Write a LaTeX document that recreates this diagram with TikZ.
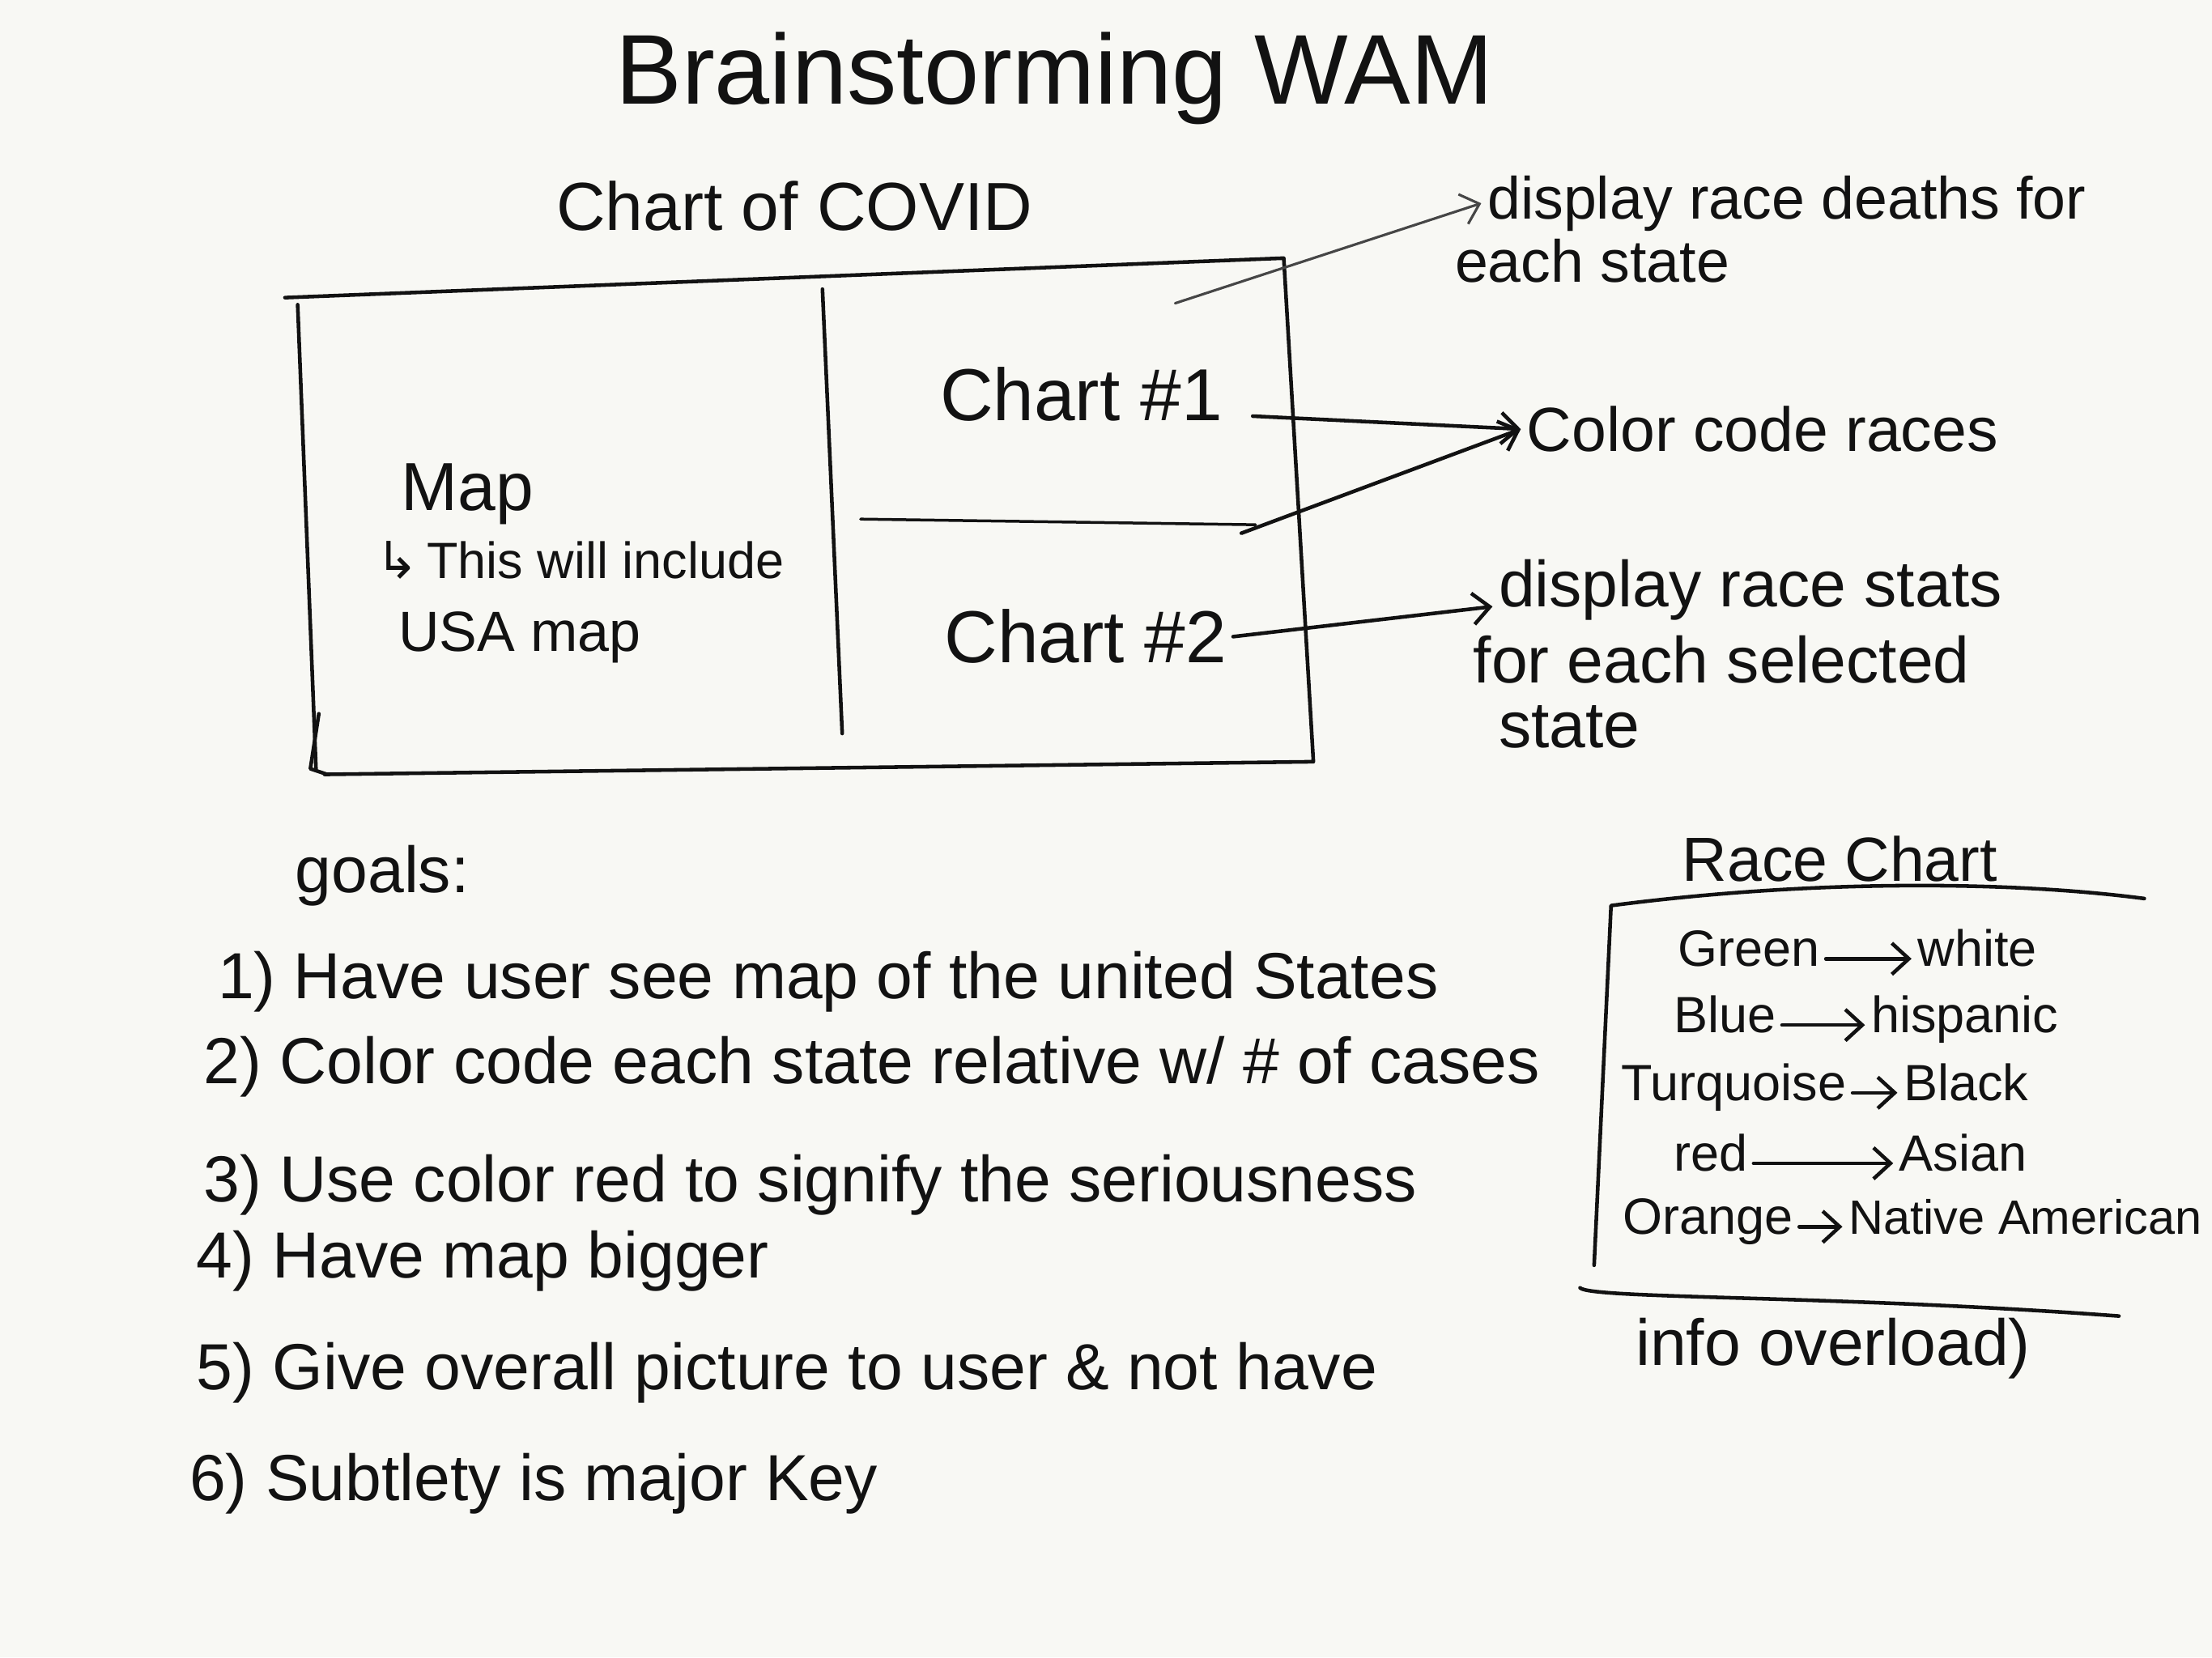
\documentclass[tikz,border=0pt]{standalone}
\usepackage{fontspec}
\setmainfont{Liberation Sans}
\newfontfamily\arrowfont{DejaVu Sans}
\usepackage{tikz}
\usetikzlibrary{arrows.meta}
\definecolor{paper}{RGB}{248,248,244}
\definecolor{ink}{RGB}{18,18,18}
\definecolor{inkgrey}{RGB}{70,70,70}

\begin{document}
\begin{tikzpicture}[x=0.0175cm, y=-0.0175cm,
        >={Straight Barb[length=6pt,width=11pt]},
        pen/.style={draw=ink, line width=1.3pt, line cap=round, line join=round},
        hand/.style={text=ink, anchor=base west, inner sep=2pt,
                     font=\fontsize{#1}{#1}\selectfont},
        hand/.default=23]
    \useasboundingbox (0,0) rectangle (1568,1175);
    \fill[paper] (0,0) rectangle (1568,1175);

    \node[hand=35] (title) at (432,74) {Brainstorming WAM};
    \node[hand=24] (covid) at (390,163) {Chart of COVID};

    % dashboard frame
    \draw[pen] (202,211) -- (910,183) -- (931,540) -- (230,549);
    \draw[pen] (211,216) -- (224,545);
    \draw[pen] (226,506) -- (220,545) -- (232,549);
    \draw[pen] (583,205) -- (597,520);
    \draw[pen, line width=1pt] (610,368) -- (890,372);

    \node[hand=24] (map) at (280,362) {Map};
    \node[hand=18] (mapnote) at (262,410) {{\arrowfont ↳}\,This will include};
    \node[hand=20] (usamap) at (278,462) {USA map};
    \node[hand=26] (chartone) at (662,298) {Chart \#1};
    \node[hand=26] (charttwo) at (665,470) {Chart \#2};

    % notes on the right
    \node[hand=21] (deathsa) at (1050,155) {display race deaths for};
    \node[hand=21] (deathsb) at (1027,200) {each state};
    \node[hand=22] (races) at (1078,320) {Color code races};
    \node[hand=23] (statsa) at (1058,430) {display race stats};
    \node[hand=23] (statsb) at (1040,484) {for each selected};
    \node[hand=23] (statsc) at (1058,530) {state};

    \coordinate (deathsfrom) at (833,215);
    \coordinate (racesfrom) at (888,295);
    \coordinate (racesfromb) at (880,378);
    \draw[pen, draw=inkgrey, line width=0.9pt, ->] (deathsfrom) -- (deathsa.west);
    \draw[pen, ->] (racesfrom) -- (races.west);
    \draw[pen, ->] (racesfromb) -- (races.west);
    \draw[pen, ->] (charttwo.east) -- (statsa.base west);

    % goals
    \node[hand] (goals) at (205,633) {goals:};
    \node[hand] (goalone) at (150,708) {1) Have user see map of the united States};
    \node[hand] (goaltwo) at (140,768) {2) Color code each state relative w/ \# of cases};
    \node[hand] (goalthree) at (140,852) {3) Use color red to signify the seriousness};
    \node[hand] (goalfour) at (135,906) {4) Have map bigger};
    \node[hand] (goalfive) at (135,985) {5) Give overall picture to user \& not have};
    \node[hand] (goalfiveb) at (1155,968) {info overload)};
    \node[hand] (goalsix) at (130,1064) {6) Subtlety is major Key};

    % race chart
    \node[hand=22] (racechart) at (1188,625) {Race Chart};
    \draw[pen] (1520,637) .. controls (1420,624) and (1280,624) .. (1142,642) -- (1130,897);
    \draw[pen] (1120,913) .. controls (1128,921) and (1300,918) .. (1502,933);

    \node[hand=18] (green) at (1185,685) {Green};
    \node[hand=18] (white) at (1355,685) {white};
    \node[hand=18] (blue) at (1182,732) {Blue};
    \node[hand=18] (hispanic) at (1322,732) {hispanic};
    \node[hand=18] (turquoise) at (1145,780) {Turquoise};
    \node[hand=18] (black) at (1345,780) {Black};
    \node[hand=18] (red) at (1182,830) {red};
    \node[hand=18] (asian) at (1342,830) {Asian};
    \node[hand=18] (orange) at (1146,875) {Orange};
    \node[hand=17] (native) at (1306,875) {Native American};
    \draw[pen, ->] (green.mid east) -- (white.mid west);
    \draw[pen, ->] (blue.mid east) -- (hispanic.mid west);
    \draw[pen, ->] (turquoise.mid east) -- (black.mid west);
    \draw[pen, ->] (red.mid east) -- (asian.mid west);
    \draw[pen, ->] (orange.mid east) -- (native.mid west);
\end{tikzpicture}
\end{document}
